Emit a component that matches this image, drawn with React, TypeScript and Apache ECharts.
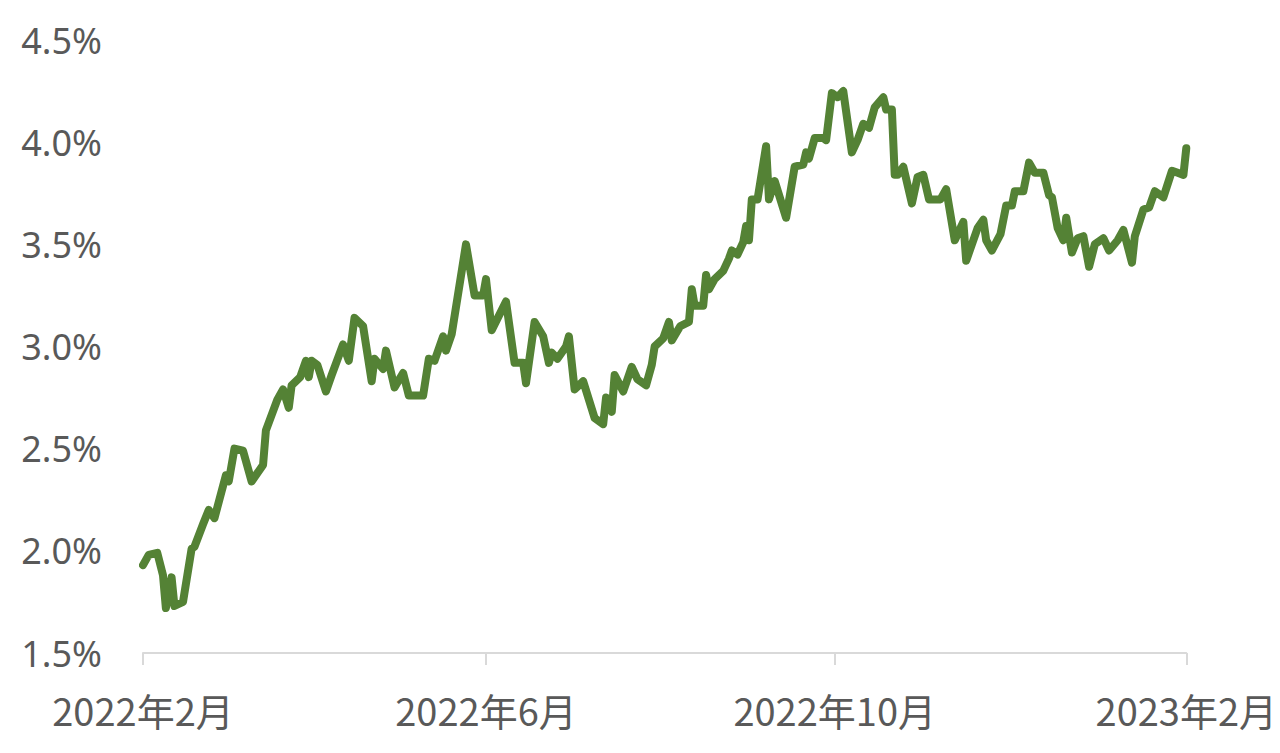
import * as echarts from 'echarts'
import React, { useEffect, useRef } from 'react'

// days since 2022-02-01
const dayOffsets = [
  0, 2, 5, 7, 8, 10, 11, 14, 17, 18, 21, 23, 25, 29, 30, 32, 35, 38, 42, 43,
  47, 49, 51, 52, 55, 57, 58, 59, 61, 64, 66, 70, 72, 74, 77, 80, 81, 84, 85, 88,
  91, 93, 94, 98, 100, 102, 105, 106, 108, 113, 116, 119, 120, 122, 127, 130, 133, 134, 137, 140,
  142, 143, 145, 148, 149, 151, 154, 158, 161, 162, 164, 165, 168, 171, 173, 176, 178, 179, 182, 184,
  185, 188, 191, 192, 193, 196, 197, 198, 200, 203, 205, 206, 208, 210, 211, 212, 213, 215, 218, 219,
  221, 225, 228, 231, 232, 233, 235, 238, 239, 241, 243, 245, 248, 250, 252, 254, 256, 259, 260, 262,
  263, 264, 266, 269, 271, 273, 275, 279, 281, 284, 287, 288, 292, 294, 295, 297, 300, 302, 304, 305,
  308, 310, 312, 315, 317, 318, 320, 322, 323, 325, 327, 329, 331, 333, 336, 338, 341, 343, 346, 347,
  350, 352, 354, 357, 360, 362, 364, 365
]

// yield, %
const yields = [
  1.93, 1.98, 1.99, 1.88, 1.72, 1.87, 1.73, 1.75, 2.01, 2.02, 2.13, 2.2, 2.16, 2.37, 2.34, 2.5, 2.49, 2.34, 2.42, 2.59,
  2.74, 2.79, 2.7, 2.81, 2.85, 2.93, 2.85, 2.93, 2.91, 2.78, 2.86, 3.01, 2.93, 3.14, 3.1, 2.83, 2.94, 2.89, 2.98, 2.8,
  2.87, 2.76, 2.76, 2.76, 2.94, 2.93, 3.05, 2.98, 3.06, 3.5, 3.25, 3.25, 3.33, 3.08, 3.22, 2.92, 2.92, 2.82, 3.12, 3.05,
  2.92, 2.97, 2.94, 3.0, 3.05, 2.79, 2.83, 2.65, 2.62, 2.75, 2.68, 2.86, 2.78, 2.9, 2.84, 2.81, 2.91, 3.0, 3.04, 3.12,
  3.03, 3.1, 3.12, 3.28, 3.2, 3.2, 3.35, 3.28, 3.33, 3.37, 3.43, 3.47, 3.45, 3.51, 3.59, 3.52, 3.72, 3.72, 3.98, 3.72,
  3.81, 3.63, 3.88, 3.89, 3.95, 3.92, 4.02, 4.02, 4.01, 4.24, 4.22, 4.25, 3.95, 4.01, 4.09, 4.07, 4.17, 4.22, 4.16, 4.16,
  3.84, 3.84, 3.88, 3.7, 3.83, 3.84, 3.72, 3.72, 3.77, 3.52, 3.61, 3.42, 3.58, 3.62, 3.52, 3.47, 3.55, 3.69, 3.69, 3.76,
  3.76, 3.9, 3.85, 3.85, 3.74, 3.73, 3.58, 3.52, 3.63, 3.46, 3.53, 3.54, 3.39, 3.5, 3.53, 3.47, 3.52, 3.57, 3.41, 3.54,
  3.67, 3.68, 3.76, 3.73, 3.86, 3.85, 3.84, 3.97
]

const xTickDays = [0, 120, 242, 365]
const xTickLabels = ['2022年2月', '2022年6月', '2022年10月', '2023年2月']

const fontFamily = '"Noto Sans", "Noto Sans CJK SC", sans-serif'

const App: React.FC = () => {
  const chartRef = useRef<HTMLDivElement>(null)

  useEffect(() => {
    const chart = echarts.init(chartRef.current!, null, { renderer: 'svg' })
    chart.setOption({
      animation: false,
      grid: { left: 143, right: 93, top: 40, bottom: 100 },
      xAxis: {
        type: 'value',
        min: 0,
        max: 365,
        splitLine: { show: false },
        axisLine: { show: true, lineStyle: { color: '#d9d9d9', width: 2 } },
        axisTick: {
          show: true,
          length: 12,
          customValues: xTickDays,
          lineStyle: { color: '#d9d9d9', width: 2 }
        },
        axisLabel: {
          customValues: xTickDays,
          formatter: (v: number) => xTickLabels[xTickDays.indexOf(v)] ?? '',
          color: '#595959',
          fontSize: 38,
          fontFamily: '"Noto Sans CJK SC", sans-serif',
          margin: 37
        }
      },
      yAxis: {
        type: 'value',
        min: 1.5,
        max: 4.5,
        interval: 0.5,
        splitLine: { show: false },
        axisLine: { show: false },
        axisTick: { show: false },
        axisLabel: {
          formatter: (v: number) => v.toFixed(1) + '%',
          color: '#595959',
          fontSize: 36,
          fontFamily,
          margin: 41,
          padding: [0, 0, 4, 0]
        }
      },
      series: [
        {
          type: 'line',
          data: dayOffsets.map((d, i) => [d, yields[i]]),
          showSymbol: false,
          lineStyle: { color: '#548235', width: 8, join: 'round', cap: 'round' }
        }
      ]
    })
    return () => {
      chart.dispose()
    }
  }, [])

  return (
    <div
      ref={chartRef}
      style={{ position: 'fixed', left: 0, top: 0, width: 1280, height: 753, background: '#fff' }}
    />
  )
}

export default App
